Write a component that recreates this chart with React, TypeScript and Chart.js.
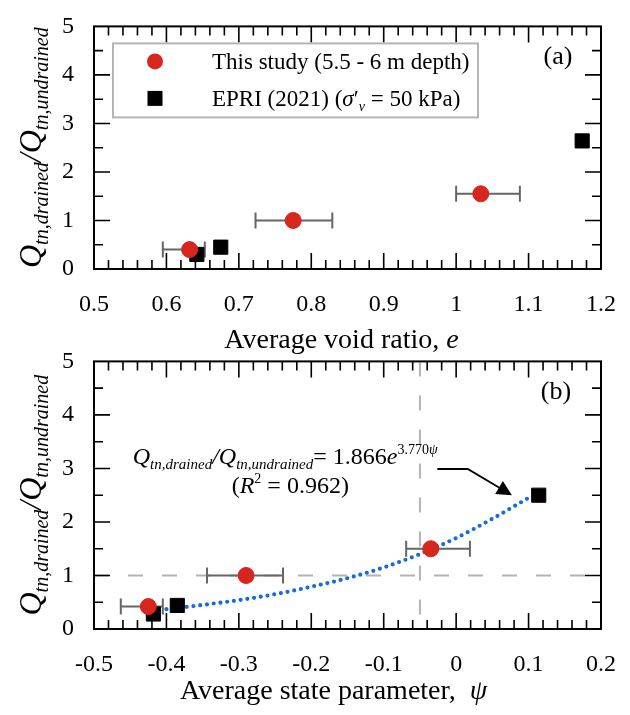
import React, { useEffect, useRef } from 'react';
import { Chart, registerables } from 'chart.js';
Chart.register(...registerables);

const FONT = "'Liberation Serif', 'Times New Roman', Times, serif";
const RED = '#d7261e';
const BLUE = '#1a6ad8';
const ERR = '#666666';

// ---------- Panel (a): void ratio ----------
const studyVoidRatio = [0.632, 0.775, 1.034];
const studyVoidLow = [0.595, 0.723, 1.0];
const studyVoidHigh = [0.653, 0.829, 1.088];
const studyRatioA = [0.4, 1.0, 1.55];
const epriVoidRatio = [0.642, 0.675, 1.174];
const epriRatioA = [0.3, 0.45, 2.64];

// ---------- Panel (b): state parameter ----------
const studyPsi = [-0.425, -0.29, -0.035];
const studyPsiLow = [-0.463, -0.344, -0.069];
const studyPsiHigh = [-0.405, -0.239, 0.019];
const studyRatioB = [0.42, 1.0, 1.5];
const epriPsi = [-0.418, -0.385, 0.114];
const epriRatioB = [0.28, 0.44, 2.5];
const fitPsi = [-0.4, -0.35, -0.3, -0.25, -0.2, -0.15, -0.1, -0.05, 0.0, 0.05, 0.105];
const fitRatio = [0.37, 0.45, 0.54, 0.65, 0.79, 0.95, 1.15, 1.4, 1.7, 2.06, 2.49];
const arrowPsi = [-0.026, 0.016, 0.077];
const arrowRatio = [2.99, 2.99, 2.5];
const refRatioLine = 1.0;
const refPsiLine = -0.05;

// ---------- ticks ----------
const xTicksA = [0.5, 0.6, 0.7, 0.8, 0.9, 1.0, 1.1, 1.2];
const xTickLabelsA = ['0.5', '0.6', '0.7', '0.8', '0.9', '1', '1.1', '1.2'];
const xTicksB = [-0.5, -0.4, -0.3, -0.2, -0.1, 0, 0.1, 0.2];
const xTickLabelsB = ['-0.5', '-0.4', '-0.3', '-0.2', '-0.1', '0', '0.1', '0.2'];
const yTicks = [0, 1, 2, 3, 4, 5];
const yTickLabels = ['0', '1', '2', '3', '4', '5'];
const xMinorStep = 0.02;
const yMinorStep = 0.5;

const fnt = (size: number, italic = false) => `${italic ? 'italic ' : ''}${size}px ${FONT}`;

type Run = { t: string; font: string; dy?: number };

function runsWidth(ctx: CanvasRenderingContext2D, runs: Run[]) {
  let w = 0;
  for (const r of runs) {
    ctx.font = r.font;
    w += ctx.measureText(r.t).width;
  }
  return w;
}

function drawRuns(ctx: CanvasRenderingContext2D, runs: Run[], x: number, y: number, align: 'left' | 'center') {
  const w = runsWidth(ctx, runs);
  let cx = align === 'center' ? x - w / 2 : x;
  ctx.textAlign = 'left';
  ctx.textBaseline = 'alphabetic';
  for (const r of runs) {
    ctx.font = r.font;
    ctx.fillText(r.t, cx, y + (r.dy || 0));
    cx += ctx.measureText(r.t).width;
  }
}

const yTitleRuns: Run[] = [
  { t: 'Q', font: fnt(32, true) },
  { t: 'tn,drained', font: fnt(20, true), dy: 7 },
  { t: '/', font: fnt(32, true) },
  { t: 'Q', font: fnt(32, true) },
  { t: 'tn,undrained', font: fnt(20, true), dy: 7 },
];

function drawFrame(chart: any, xMajor: number[]) {
  const { ctx, chartArea: a } = chart;
  const xs = chart.scales.x;
  const ys = chart.scales.y;
  const MAJ = 16;
  const MIN = 9;
  ctx.save();
  ctx.strokeStyle = '#000';
  ctx.lineWidth = 1.6;
  ctx.beginPath();
  const nx = Math.round((xs.max - xs.min) / xMinorStep);
  for (let i = 1; i < nx; i++) {
    const v = xs.min + i * xMinorStep;
    const major = xMajor.some((m) => Math.abs(m - v) < 1e-6);
    const len = major ? MAJ : MIN;
    const px = xs.getPixelForValue(v);
    ctx.moveTo(px, a.bottom);
    ctx.lineTo(px, a.bottom - len);
    ctx.moveTo(px, a.top);
    ctx.lineTo(px, a.top + len);
  }
  const ny = Math.round((ys.max - ys.min) / yMinorStep);
  for (let i = 1; i < ny; i++) {
    const v = ys.min + i * yMinorStep;
    const major = yTicks.some((m) => Math.abs(m - v) < 1e-6);
    const len = major ? MAJ : MIN;
    const py = ys.getPixelForValue(v);
    ctx.moveTo(a.left, py);
    ctx.lineTo(a.left + len, py);
    ctx.moveTo(a.right, py);
    ctx.lineTo(a.right - len, py);
  }
  ctx.stroke();
  ctx.lineWidth = 2;
  ctx.strokeRect(a.left, a.top, a.right - a.left, a.bottom - a.top);
  ctx.restore();
}

function drawErrorBars(chart: any, centers: number[], lows: number[], highs: number[], vals: number[]) {
  const { ctx } = chart;
  const xs = chart.scales.x;
  const ys = chart.scales.y;
  ctx.save();
  ctx.strokeStyle = ERR;
  ctx.lineWidth = 2;
  ctx.beginPath();
  for (let i = 0; i < centers.length; i++) {
    const y = ys.getPixelForValue(vals[i]);
    const x0 = xs.getPixelForValue(lows[i]);
    const x1 = xs.getPixelForValue(highs[i]);
    ctx.moveTo(x0, y);
    ctx.lineTo(x1, y);
    ctx.moveTo(x0, y - 8);
    ctx.lineTo(x0, y + 8);
    ctx.moveTo(x1, y - 8);
    ctx.lineTo(x1, y + 8);
  }
  ctx.stroke();
  ctx.restore();
}

function drawYTitle(chart: any) {
  const { ctx, chartArea: a } = chart;
  ctx.save();
  ctx.fillStyle = '#000';
  ctx.translate(41, (a.top + a.bottom) / 2);
  ctx.rotate(-Math.PI / 2);
  drawRuns(ctx, yTitleRuns, 0, 0, 'center');
  ctx.restore();
}

const pluginA = {
  id: 'decorA',
  beforeDatasetsDraw(chart: any) {
    drawErrorBars(chart, studyVoidRatio, studyVoidLow, studyVoidHigh, studyRatioA);
  },
  afterDatasetsDraw(chart: any) {
    const { ctx, chartArea: a } = chart;
    drawFrame(chart, xTicksA);
    // legend
    ctx.save();
    const lx = a.left + 19;
    const ly = a.top + 17;
    ctx.fillStyle = '#fff';
    ctx.fillRect(lx, ly, 365, 74);
    ctx.strokeStyle = '#b5b5b5';
    ctx.lineWidth = 2;
    ctx.strokeRect(lx, ly, 365, 74);
    ctx.fillStyle = RED;
    ctx.beginPath();
    ctx.arc(lx + 42, ly + 18, 8, 0, Math.PI * 2);
    ctx.fill();
    ctx.fillStyle = '#000';
    ctx.fillRect(lx + 42 - 7.5, ly + 55 - 7.5, 15, 15);
    drawRuns(ctx, [{ t: 'This study (5.5 - 6 m depth)', font: fnt(23) }], lx + 99, ly + 26, 'left');
    drawRuns(
      ctx,
      [
        { t: 'EPRI (2021) (', font: fnt(23) },
        { t: 'σ', font: fnt(23, true) },
        { t: '′', font: fnt(23) },
        { t: 'v', font: fnt(14, true), dy: 5 },
        { t: ' = 50 kPa)', font: fnt(23) },
      ],
      lx + 99,
      ly + 63,
      'left'
    );
    ctx.font = fnt(26);
    ctx.textAlign = 'center';
    ctx.textBaseline = 'middle';
    ctx.fillText('(a)', a.right - 43, a.top + 31);
    ctx.restore();
  },
  afterDraw(chart: any) {
    const { ctx, chartArea: a } = chart;
    ctx.save();
    ctx.fillStyle = '#000';
    drawYTitle(chart);
    drawRuns(
      ctx,
      [
        { t: 'Average void ratio, ', font: fnt(28) },
        { t: 'e', font: fnt(28, true) },
      ],
      (a.left + a.right) / 2 - 6,
      a.bottom + 79,
      'center'
    );
    ctx.restore();
  },
};

const pluginB = {
  id: 'decorB',
  beforeDatasetsDraw(chart: any) {
    const { ctx, chartArea: a } = chart;
    const xs = chart.scales.x;
    const ys = chart.scales.y;
    ctx.save();
    ctx.strokeStyle = '#b3b3b3';
    ctx.lineWidth = 2;
    ctx.setLineDash([15, 19]);
    ctx.beginPath();
    const yy = ys.getPixelForValue(refRatioLine);
    ctx.moveTo(a.left, yy);
    ctx.lineTo(a.right, yy);
    const xx = xs.getPixelForValue(refPsiLine);
    ctx.moveTo(xx, a.top);
    ctx.lineTo(xx, a.bottom);
    ctx.stroke();
    ctx.restore();
    drawErrorBars(chart, studyPsi, studyPsiLow, studyPsiHigh, studyRatioB);
  },
  afterDatasetsDraw(chart: any) {
    const { ctx, chartArea: a } = chart;
    const xs = chart.scales.x;
    const ys = chart.scales.y;
    drawFrame(chart, xTicksB);
    ctx.save();
    ctx.fillStyle = '#000';
    // equation
    const eqX = xs.getPixelForValue(-0.236);
    const eqY = ys.getPixelForValue(3.08);
    drawRuns(
      ctx,
      [
        { t: 'Q', font: fnt(24, true) },
        { t: 'tn,drained', font: fnt(15, true), dy: 5 },
        { t: '/', font: fnt(24, true) },
        { t: 'Q', font: fnt(24, true) },
        { t: 'tn,undrained', font: fnt(15, true), dy: 5 },
        { t: '= 1.866', font: fnt(24) },
        { t: 'e', font: fnt(24, true) },
        { t: '3.770', font: fnt(14), dy: -10 },
        { t: 'ψ', font: fnt(14, true), dy: -10 },
      ],
      eqX,
      eqY,
      'center'
    );
    const r2X = xs.getPixelForValue(-0.229);
    const r2Y = ys.getPixelForValue(2.55);
    drawRuns(
      ctx,
      [
        { t: '(', font: fnt(24) },
        { t: 'R', font: fnt(24, true) },
        { t: '2', font: fnt(14), dy: -10 },
        { t: ' = 0.962)', font: fnt(24) },
      ],
      r2X,
      r2Y,
      'center'
    );
    // arrow
    const pts = arrowPsi.map((p, i) => [xs.getPixelForValue(p), ys.getPixelForValue(arrowRatio[i])]);
    ctx.strokeStyle = '#000';
    ctx.lineWidth = 1.8;
    ctx.beginPath();
    ctx.moveTo(pts[0][0], pts[0][1]);
    const tip = pts[pts.length - 1];
    const prev = pts[pts.length - 2];
    const dx = tip[0] - prev[0];
    const dy = tip[1] - prev[1];
    const len = Math.hypot(dx, dy);
    const ux = dx / len;
    const uy = dy / len;
    const hl = 15;
    const hw = 7.5;
    ctx.lineTo(pts[1][0], pts[1][1]);
    ctx.lineTo(tip[0] - ux * hl, tip[1] - uy * hl);
    ctx.stroke();
    ctx.beginPath();
    ctx.moveTo(tip[0], tip[1]);
    ctx.lineTo(tip[0] - ux * hl - uy * hw, tip[1] - uy * hl + ux * hw);
    ctx.lineTo(tip[0] - ux * hl + uy * hw, tip[1] - uy * hl - ux * hw);
    ctx.closePath();
    ctx.fill();
    ctx.font = fnt(26);
    ctx.textAlign = 'center';
    ctx.textBaseline = 'middle';
    ctx.fillText('(b)', a.right - 45, a.top + 31);
    ctx.restore();
  },
  afterDraw(chart: any) {
    const { ctx, chartArea: a } = chart;
    ctx.save();
    ctx.fillStyle = '#000';
    drawYTitle(chart);
    drawRuns(
      ctx,
      [
        { t: 'Average state parameter,  ', font: fnt(28) },
        { t: 'ψ', font: fnt(28, true) },
      ],
      (a.left + a.right) / 2 - 14,
      a.bottom + 70,
      'center'
    );
    ctx.restore();
  },
};

function scales(xMin: number, xMax: number, xTicks: number[], xLabels: string[], xHeight: number) {
  return {
    x: {
      type: 'linear',
      min: xMin,
      max: xMax,
      grid: { display: false },
      border: { display: false },
      afterBuildTicks: (s: any) => {
        s.ticks = xTicks.map((v) => ({ value: v }));
      },
      afterFit: (s: any) => {
        s.height = xHeight;
      },
      ticks: {
        autoSkip: false,
        maxRotation: 0,
        padding: 13,
        color: '#000',
        font: { family: FONT, size: 24 },
        callback: (_v: any, i: number) => xLabels[i],
      },
    },
    y: {
      type: 'linear',
      min: 0,
      max: 5,
      grid: { display: false },
      border: { display: false },
      afterBuildTicks: (s: any) => {
        s.ticks = yTicks.map((v) => ({ value: v }));
      },
      afterFit: (s: any) => {
        s.width = 94;
      },
      ticks: {
        padding: 12,
        color: '#000',
        font: { family: FONT, size: 24 },
        callback: (_v: any, i: number) => yTickLabels[i],
      },
    },
  };
}

function configA(): any {
  return {
    type: 'scatter',
    data: {
      datasets: [
        {
          label: 'This study (5.5 - 6 m depth)',
          data: studyVoidRatio.map((x, i) => ({ x, y: studyRatioA[i] })),
          pointStyle: 'circle',
          pointRadius: 8,
          backgroundColor: RED,
          borderColor: RED,
          borderWidth: 1,
        },
        {
          label: 'EPRI (2021)',
          data: epriVoidRatio.map((x, i) => ({ x, y: epriRatioA[i] })),
          pointStyle: 'rect',
          pointRadius: 10,
          backgroundColor: '#000',
          borderColor: '#000',
          borderWidth: 1,
        },
      ],
    },
    options: {
      responsive: false,
      animation: false,
      devicePixelRatio: 1,
      events: [],
      layout: { padding: { top: 16, right: 29, left: 0, bottom: 0 } },
      plugins: { legend: { display: false }, tooltip: { enabled: false } },
      scales: scales(0.5, 1.2, xTicksA, xTickLabelsA, 91),
    },
    plugins: [pluginA],
  };
}

function configB(): any {
  return {
    type: 'scatter',
    data: {
      datasets: [
        {
          label: 'This study (5.5 - 6 m depth)',
          data: studyPsi.map((x, i) => ({ x, y: studyRatioB[i] })),
          pointStyle: 'circle',
          pointRadius: 8,
          backgroundColor: RED,
          borderColor: RED,
          borderWidth: 1,
        },
        {
          label: 'EPRI (2021)',
          data: epriPsi.map((x, i) => ({ x, y: epriRatioB[i] })),
          pointStyle: 'rect',
          pointRadius: 10,
          backgroundColor: '#000',
          borderColor: '#000',
          borderWidth: 1,
        },
        {
          type: 'line',
          label: 'Fit',
          data: fitPsi.map((x, i) => ({ x, y: fitRatio[i] })),
          borderColor: BLUE,
          borderWidth: 4.2,
          borderDash: [0, 6.8],
          borderCapStyle: 'round',
          pointRadius: 0,
          fill: false,
          cubicInterpolationMode: 'monotone',
          showLine: true,
        },
      ],
    },
    options: {
      responsive: false,
      animation: false,
      devicePixelRatio: 1,
      events: [],
      layout: { padding: { top: 18, right: 29, left: 0, bottom: 0 } },
      plugins: { legend: { display: false }, tooltip: { enabled: false } },
      scales: scales(-0.5, 0.2, xTicksB, xTickLabelsB, 86),
    },
    plugins: [pluginB],
  };
}

export default function App() {
  const refA = useRef<HTMLCanvasElement>(null);
  const refB = useRef<HTMLCanvasElement>(null);
  useEffect(() => {
    const ca = new Chart(refA.current as HTMLCanvasElement, configA());
    const cb = new Chart(refB.current as HTMLCanvasElement, configB());
    return () => {
      ca.destroy();
      cb.destroy();
    };
  }, []);
  return (
    <div style={{ position: 'absolute', left: 0, top: 0, width: 630, height: 715, background: '#fff' }}>
      <canvas ref={refA} width={630} height={360} style={{ position: 'absolute', left: 0, top: 0 }} />
      <canvas ref={refB} width={630} height={380} style={{ position: 'absolute', left: 0, top: 335 }} />
    </div>
  );
}
